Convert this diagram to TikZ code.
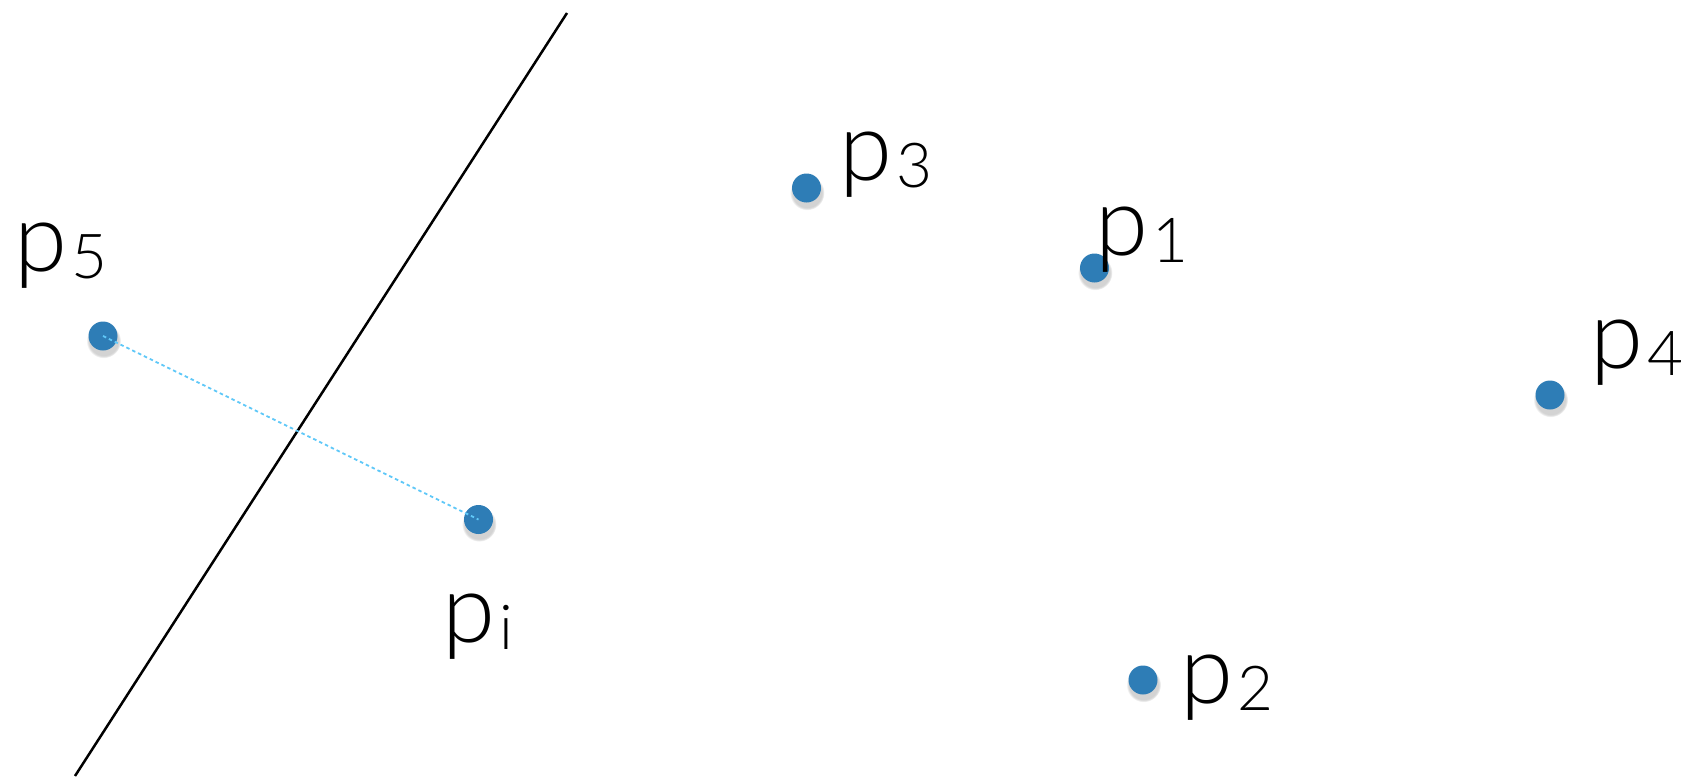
\documentclass[tikz,border=0pt]{standalone}
\usepackage{fontspec}
\setmainfont{Lato}[UprightFont=* Light]
\usetikzlibrary{shadows}
\definecolor{dotblue}{RGB}{46,125,182}
\definecolor{lightblue}{RGB}{95,200,248}
\newcommand\mysub[1]{\kern4pt\raisebox{-7pt}{\fontsize{62}{62}\selectfont #1}}
\begin{document}
\begin{tikzpicture}[x=1pt,y=-1pt,
  ptdot/.style={circle,fill=dotblue,inner sep=0pt,minimum size=29pt,
    circular drop shadow={shadow xshift=0.5pt,shadow yshift=-4pt,shadow scale=1.2,opacity=0.35}},
  lbl/.style={anchor=base west,inner sep=0pt,font=\fontsize{96}{96}\selectfont},
  sepline/.style={line width=2.5pt,black},
  dotline/.style={lightblue,line width=1.8pt,dash pattern=on 3.5pt off 3pt}]
\useasboundingbox (0,0) rectangle (1690,779);
\coordinate (lt) at (567,13);
\coordinate (lb) at (75,776);
\draw[sepline] (lt) -- (lb);
\node[ptdot] (d5) at (103,336) {};
\node[ptdot] (di) at (478.5,519.5) {};
\node[ptdot] (d3) at (806.5,188) {};
\node[ptdot] (d1) at (1094.5,268) {};
\node[ptdot] (d4) at (1550,395) {};
\node[ptdot] (d2) at (1143,680) {};
\draw[dotline] (d5.center) -- (di.center);
\node[lbl] (l5) at (14,271) {p\mysub{5}};
\node[lbl] (l3) at (839,180) {p\mysub{3}};
\node[lbl] (l1) at (1095,255) {p\mysub{1}};
\node[lbl] (l4) at (1590,368) {p\mysub{4}};
\node[lbl] (l2) at (1180,703) {p\mysub{2}};
\node[lbl] (li) at (442,642) {p\mysub{i}};
\end{tikzpicture}
\end{document}
